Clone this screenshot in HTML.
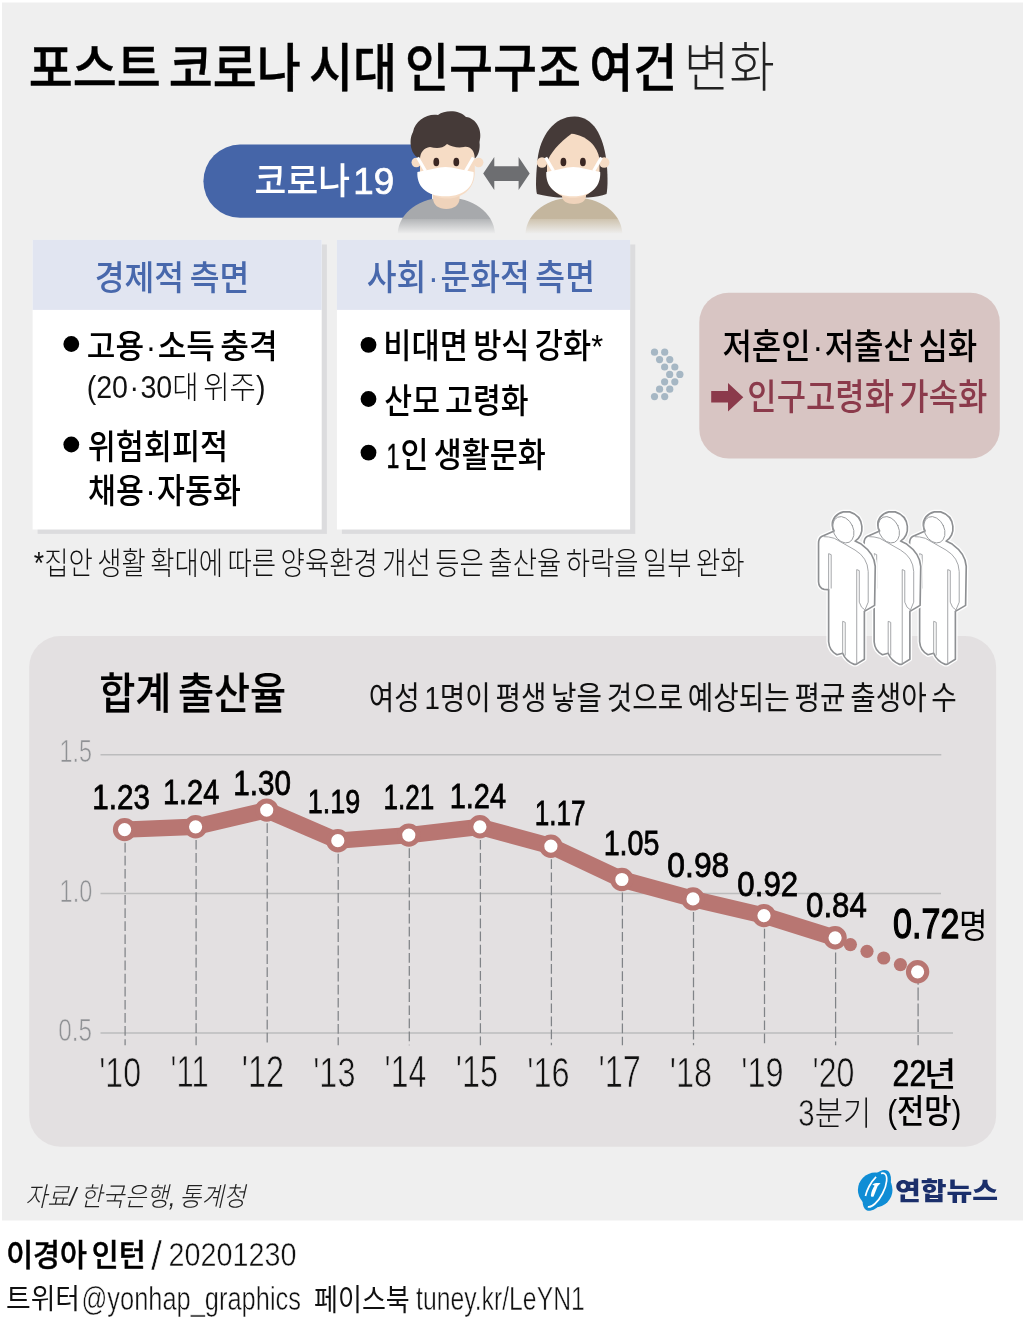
<!DOCTYPE html>
<html lang="ko"><head><meta charset="utf-8"><title>포스트 코로나 시대 인구구조 여건 변화</title>
<style>html,body{margin:0;padding:0;background:#fff}svg{display:block}text{white-space:pre}</style></head>
<body>
<svg width="1027" height="1331" viewBox="0 0 1027 1331">
<rect x="0" y="0" width="1027" height="1331" fill="#fff"/>
<rect x="2" y="2.5" width="1021" height="1218" fill="#efefef"/>
<path d="M240 144.6H432V217.8H240A36.6 36.6 0 0 1 240 144.6Z" fill="#4565a8"/>
<rect x="37.6" y="244.5" width="289.3" height="289.4" fill="#dcdcde"/>
<rect x="32.6" y="239.9" width="289.1" height="289.6" fill="#fff"/>
<rect x="32.6" y="239.9" width="289.1" height="70" fill="#e1e5f1"/>
<rect x="341.9" y="244.5" width="293.4" height="289.4" fill="#dcdcde"/>
<rect x="336.9" y="239.9" width="293.2" height="289.6" fill="#fff"/>
<rect x="336.9" y="239.9" width="293.2" height="70" fill="#e1e5f1"/>
<circle cx="71.3" cy="344" r="7.9" fill="#000"/>
<circle cx="71.3" cy="444.5" r="7.9" fill="#000"/>
<circle cx="368.5" cy="344.8" r="7.9" fill="#000"/>
<circle cx="368.5" cy="399" r="7.9" fill="#000"/>
<circle cx="368.5" cy="452.6" r="7.9" fill="#000"/>
<circle cx="654.50" cy="352.20" r="3.6" fill="#a6b7c4"/>
<circle cx="664.70" cy="352.20" r="3.6" fill="#a6b7c4"/>
<circle cx="659.56" cy="359.60" r="3.6" fill="#a6b7c4"/>
<circle cx="669.76" cy="359.60" r="3.6" fill="#a6b7c4"/>
<circle cx="664.62" cy="367.00" r="3.6" fill="#a6b7c4"/>
<circle cx="674.82" cy="367.00" r="3.6" fill="#a6b7c4"/>
<circle cx="669.68" cy="374.40" r="3.6" fill="#a6b7c4"/>
<circle cx="679.88" cy="374.40" r="3.6" fill="#a6b7c4"/>
<circle cx="664.62" cy="381.80" r="3.6" fill="#a6b7c4"/>
<circle cx="674.82" cy="381.80" r="3.6" fill="#a6b7c4"/>
<circle cx="659.56" cy="389.20" r="3.6" fill="#a6b7c4"/>
<circle cx="669.76" cy="389.20" r="3.6" fill="#a6b7c4"/>
<circle cx="654.50" cy="396.60" r="3.6" fill="#a6b7c4"/>
<circle cx="664.70" cy="396.60" r="3.6" fill="#a6b7c4"/>
<rect x="699.3" y="292.7" width="300.5" height="165.7" rx="29.5" ry="29.5" fill="#d8c5c3"/>
<path d="M711.2 390.9H728V383L743.3 397.2L728 411.4V402.6H711.2Z" fill="#8b3a4b"/>
<rect x="29.2" y="636.1" width="966.9" height="510.6" rx="31" ry="31" fill="#e3e0e1"/>
<defs>
<linearGradient id="gm" x1="0" y1="197" x2="0" y2="234" gradientUnits="userSpaceOnUse"><stop offset="0" stop-color="#a7a9ac"/><stop offset="0.58" stop-color="#a7a9ac"/><stop offset="0.6" stop-color="#b4b6b8"/><stop offset="1" stop-color="#efefef"/></linearGradient>
<linearGradient id="gf" x1="0" y1="197" x2="0" y2="234" gradientUnits="userSpaceOnUse"><stop offset="0" stop-color="#c4b69e"/><stop offset="0.58" stop-color="#c4b69e"/><stop offset="0.6" stop-color="#cfc4b0"/><stop offset="1" stop-color="#efefef"/></linearGradient>
</defs>
<!-- male -->
<g>
<path d="M397.6 233.6C399 212 420 197.5 446.3 197.5C472.600 197.5 493.500 212 495 233.600Z" fill="url(#gm)"/>
<path d="M433 183H459.600V198C459.600 205 454 209 446.300 209C438.600 209 433 205 433 198Z" fill="#efd3bb"/>
<circle cx="416.3" cy="162.500" r="4.800" fill="#f6dcc5"/><circle cx="478.600" cy="162.500" r="4.800" fill="#f6dcc5"/>
<path d="M420 150C420 132 432 126 447.400 126C463 126 474.800 132 474.800 150V172C474.800 188 463 198.500 447.400 198.500C432 198.500 420 188 420 172Z" fill="#f6dcc5"/>
<path d="M420 158.500C411 156 408 141 413 132C415 120 428 113 438 115C445 109.500 460 110 466 117C476 118 483 130 479.500 142C480.500 150 478 156 474.800 158.500C474.500 150 470 146 464 147C458 148 452 147 447 144C442 149 436 148.500 430 147C424 148 420.500 152 420 158.500Z" fill="#453a38"/>
<ellipse cx="436.300" cy="162" rx="2.900" ry="4.300" fill="#3b2723"/><ellipse cx="456.300" cy="162" rx="2.900" ry="4.300" fill="#3b2723"/>
<path d="M417.600 157.500L425.500 171M473.300 157.500L465.500 171" stroke="#fff" stroke-width="3.200" fill="none"/>
<path d="M417.400 172C428 170.500 438 167 445.500 167C453 167 464 170.500 473.600 172C474.500 185 466 196.300 445.500 196.300C425 196.300 416.500 185 417.400 172Z" fill="#fff"/>
</g>
<!-- arrow -->
<path d="M483.200 173.400L494.300 157V166.300H518.600V157L529.700 173.400L518.600 189.900V181H494.300V189.900Z" fill="#6d6e71"/>
<!-- female -->
<g>
<path d="M525.400 233.600C527 212 548 197.500 574 197.500C600 197.500 621 212 622.400 233.600Z" fill="url(#gf)"/>
<path d="M575 116.500C555 116 540 135 537.500 160C536 175 535.300 188 537 194C545 196 552 197 558 197.500L588 197.500C595 197 602 196 606.500 194C608 188 607.800 172 606.300 160C603 135 593 117 575 116.500Z" fill="#453a38"/>
<path d="M562 183H586V196C586 201 581 204 574 204C567 204 562 201 562 196Z" fill="#efd3bb"/>
<circle cx="542" cy="162.500" r="5.200" fill="#f6dcc5"/><circle cx="604.200" cy="162.500" r="5.200" fill="#f6dcc5"/>
<path d="M547 163C549 154 560 142 571.500 133.800C586 135 598 146 599.500 160V172C599.500 188 588 198 573 198C558 198 547 188 547 172Z" fill="#f6dcc5"/>
<ellipse cx="563.400" cy="162" rx="2.900" ry="4.300" fill="#3b2723"/><ellipse cx="582.900" cy="162" rx="2.900" ry="4.300" fill="#3b2723"/>
<path d="M545.700 157.500L553.500 171M601.400 157.500L593.600 171" stroke="#fff" stroke-width="3.200" fill="none"/>
<path d="M546.300 172C556 170.500 566 167 573.200 167C580.500 167 591 170.500 600.200 172C601 185 593 196.300 573.200 196.300C553.500 196.300 545.500 185 546.300 172Z" fill="#fff"/>
</g>

<!-- people -->
<g transform="translate(896 500) scale(0.12771)"><path d="M130 285 Q106 298 106 340 L106 640 Q108 690 150 700 L185 702 L185 1110 Q190 1180 250 1212 L295 1200 Q320 1262 385 1287 L400 1287 L465 1247 L465 872 L545 825 L550 520 Q545 420 440 345 L392 322 C470 280 470 130 350 93 L300 93 C245 105 210 150 214 200 Q216 225 228 242 Z" fill="#fff" stroke="#fff" stroke-width="34" stroke-linejoin="round"/><path d="M130 285 Q106 298 106 340 L106 640 Q108 690 150 700 L185 702 L185 1110 Q190 1180 250 1212 L295 1200 Q320 1262 385 1287 L400 1287 L465 1247 L465 872 L545 825 L550 520 Q545 420 440 345 L392 322 C470 280 470 130 350 93 L300 93 C245 105 210 150 214 200 Q216 225 228 242 Z" fill="#fff" stroke="#8e9093" stroke-width="13" stroke-linejoin="round"/><g fill="none" stroke="#9a9c9f" stroke-width="7" stroke-linejoin="round" stroke-linecap="round"><ellipse cx="300" cy="233" rx="78" ry="108" transform="rotate(-25 300 233)"/><path d="M150 287 Q180 285 230 300 L392 392 Q490 450 495 560 L495 800 L465 872"/><path d="M185 702 L185 420 L205 428 L205 690"/><path d="M295 1200 L295 950 L315 958 L315 1215"/><path d="M405 1285 L405 545 L425 553 L425 800 Q440 850 465 858"/></g></g>
<g transform="translate(850.5 500) scale(0.12771)"><path d="M130 285 Q106 298 106 340 L106 640 Q108 690 150 700 L185 702 L185 1110 Q190 1180 250 1212 L295 1200 Q320 1262 385 1287 L400 1287 L465 1247 L465 872 L545 825 L550 520 Q545 420 440 345 L392 322 C470 280 470 130 350 93 L300 93 C245 105 210 150 214 200 Q216 225 228 242 Z" fill="#fff" stroke="#fff" stroke-width="34" stroke-linejoin="round"/><path d="M130 285 Q106 298 106 340 L106 640 Q108 690 150 700 L185 702 L185 1110 Q190 1180 250 1212 L295 1200 Q320 1262 385 1287 L400 1287 L465 1247 L465 872 L545 825 L550 520 Q545 420 440 345 L392 322 C470 280 470 130 350 93 L300 93 C245 105 210 150 214 200 Q216 225 228 242 Z" fill="#fff" stroke="#8e9093" stroke-width="13" stroke-linejoin="round"/><g fill="none" stroke="#9a9c9f" stroke-width="7" stroke-linejoin="round" stroke-linecap="round"><ellipse cx="300" cy="233" rx="78" ry="108" transform="rotate(-25 300 233)"/><path d="M150 287 Q180 285 230 300 L392 392 Q490 450 495 560 L495 800 L465 872"/><path d="M185 702 L185 420 L205 428 L205 690"/><path d="M295 1200 L295 950 L315 958 L315 1215"/><path d="M405 1285 L405 545 L425 553 L425 800 Q440 850 465 858"/></g></g>
<g transform="translate(805 500) scale(0.12771)"><path d="M130 285 Q106 298 106 340 L106 640 Q108 690 150 700 L185 702 L185 1110 Q190 1180 250 1212 L295 1200 Q320 1262 385 1287 L400 1287 L465 1247 L465 872 L545 825 L550 520 Q545 420 440 345 L392 322 C470 280 470 130 350 93 L300 93 C245 105 210 150 214 200 Q216 225 228 242 Z" fill="#fff" stroke="#fff" stroke-width="34" stroke-linejoin="round"/><path d="M130 285 Q106 298 106 340 L106 640 Q108 690 150 700 L185 702 L185 1110 Q190 1180 250 1212 L295 1200 Q320 1262 385 1287 L400 1287 L465 1247 L465 872 L545 825 L550 520 Q545 420 440 345 L392 322 C470 280 470 130 350 93 L300 93 C245 105 210 150 214 200 Q216 225 228 242 Z" fill="#fff" stroke="#8e9093" stroke-width="13" stroke-linejoin="round"/><g fill="none" stroke="#9a9c9f" stroke-width="7" stroke-linejoin="round" stroke-linecap="round"><ellipse cx="300" cy="233" rx="78" ry="108" transform="rotate(-25 300 233)"/><path d="M150 287 Q180 285 230 300 L392 392 Q490 450 495 560 L495 800 L465 872"/><path d="M185 702 L185 420 L205 428 L205 690"/><path d="M295 1200 L295 950 L315 958 L315 1215"/><path d="M405 1285 L405 545 L425 553 L425 800 Q440 850 465 858"/></g></g>
<path d="M100.5 754.7H941.3M100.5 893.6H941M100.5 1033.1H953" stroke="#bcbcbd" stroke-width="1.5" fill="none"/>
<path d="M125.1 829.6V1045.2" stroke="#808387" stroke-width="1.25" stroke-dasharray="9.7 3.4" fill="none"/>
<path d="M196.1 826.8V1045.2" stroke="#808387" stroke-width="1.25" stroke-dasharray="9.7 3.4" fill="none"/>
<path d="M267.2 810.1V1045.2" stroke="#808387" stroke-width="1.25" stroke-dasharray="9.7 3.4" fill="none"/>
<path d="M338.2 840.7V1045.2" stroke="#808387" stroke-width="1.25" stroke-dasharray="9.7 3.4" fill="none"/>
<path d="M409.3 835.1V1045.2" stroke="#808387" stroke-width="1.25" stroke-dasharray="9.7 3.4" fill="none"/>
<path d="M480.4 826.8V1045.2" stroke="#808387" stroke-width="1.25" stroke-dasharray="9.7 3.4" fill="none"/>
<path d="M551.4 846.2V1045.2" stroke="#808387" stroke-width="1.25" stroke-dasharray="9.7 3.4" fill="none"/>
<path d="M622.4 879.5V1045.2" stroke="#808387" stroke-width="1.25" stroke-dasharray="9.7 3.4" fill="none"/>
<path d="M693.5 898.9V1045.2" stroke="#808387" stroke-width="1.25" stroke-dasharray="9.7 3.4" fill="none"/>
<path d="M764.5 915.6V1045.2" stroke="#808387" stroke-width="1.25" stroke-dasharray="9.7 3.4" fill="none"/>
<path d="M835.6 937.8V1045.2" stroke="#808387" stroke-width="1.25" stroke-dasharray="11.5 3.3" fill="none"/>
<path d="M918.1 971.8V1045.2" stroke="#808387" stroke-width="1.25" stroke-dasharray="12.9 2.9" fill="none"/>
<polyline points="124.6,829.6 195.6,826.8 266.7,810.1 337.8,840.7 408.8,835.1 479.9,826.8 550.9,846.2 621.9,879.5 693.0,898.9 764.0,915.6 835.1,937.8" fill="none" stroke="#b87672" stroke-width="16.4" stroke-linejoin="round" stroke-linecap="round"/>
<circle cx="850.4" cy="944.6" r="6.6" fill="#b87672"/>
<circle cx="867.0" cy="951.3" r="6.6" fill="#b87672"/>
<circle cx="883.7" cy="958.0" r="6.6" fill="#b87672"/>
<circle cx="900.4" cy="964.6" r="6.6" fill="#b87672"/>
<circle cx="124.6" cy="829.6" r="9.15" fill="#fff" stroke="#b87672" stroke-width="5.1"/>
<circle cx="195.6" cy="826.8" r="9.15" fill="#fff" stroke="#b87672" stroke-width="5.1"/>
<circle cx="266.7" cy="810.1" r="9.15" fill="#fff" stroke="#b87672" stroke-width="5.1"/>
<circle cx="337.8" cy="840.7" r="9.15" fill="#fff" stroke="#b87672" stroke-width="5.1"/>
<circle cx="408.8" cy="835.1" r="9.15" fill="#fff" stroke="#b87672" stroke-width="5.1"/>
<circle cx="479.9" cy="826.8" r="9.15" fill="#fff" stroke="#b87672" stroke-width="5.1"/>
<circle cx="550.9" cy="846.2" r="9.15" fill="#fff" stroke="#b87672" stroke-width="5.1"/>
<circle cx="621.9" cy="879.5" r="9.15" fill="#fff" stroke="#b87672" stroke-width="5.1"/>
<circle cx="693.0" cy="898.9" r="9.15" fill="#fff" stroke="#b87672" stroke-width="5.1"/>
<circle cx="764.0" cy="915.6" r="9.15" fill="#fff" stroke="#b87672" stroke-width="5.1"/>
<circle cx="835.1" cy="937.8" r="9.15" fill="#fff" stroke="#b87672" stroke-width="5.1"/>
<circle cx="917.6" cy="971.8" r="9.15" fill="#fff" stroke="#b87672" stroke-width="5.1"/>
<!-- logo mark -->
<g>
<circle cx="875.200" cy="1189.900" r="17.300" fill="#0f8dd5"/>
<ellipse cx="876.800" cy="1190.400" rx="22.300" ry="11" transform="rotate(-62.500 876.800 1190.400)" fill="#0f8dd5"/>
<ellipse cx="875.800" cy="1190" rx="18.600" ry="7.600" transform="rotate(-62.500 875.800 1190)" fill="none" stroke="#fff" stroke-width="1.700" stroke-dasharray="46 12 22 6" stroke-dashoffset="4"/>
<path d="M872.300 1184.500C875 1182.500 878.500 1182.800 880.500 1183.200L877.600 1186.300L873.600 1196.600C871.800 1197.200 870.800 1196.600 870.900 1195.200C871.400 1191.500 872.800 1188.500 874.600 1185.800Z" fill="#fff"/>
</g>

<text transform="translate(28.69 87.06) scale(0.9084 1)" font-size="52.69" font-family="'Liberation Sans','Noto Sans CJK KR',sans-serif" font-weight="500" fill="#000" stroke="#000" stroke-width="0.008em" word-spacing="-0.11em">포스트 코로나 시대 인구구조 여건</text>
<text transform="translate(683.74 86.97) scale(0.9164 1)" font-size="54.11" font-family="'Liberation Sans','Noto Sans CJK KR',sans-serif" font-weight="300" fill="#222"  word-spacing="-0.11em">변화</text>
<text transform="translate(254.57 194.19) scale(0.9406 1)" font-size="36.77" font-family="'Liberation Sans','Noto Sans CJK KR',sans-serif" font-weight="500" fill="#fff"  word-spacing="-0.11em">코로나</text>
<text transform="translate(353.23 194.16) scale(0.9886 1)" font-size="37.12" font-family="'Liberation Sans','Noto Sans CJK KR',sans-serif" font-weight="400" fill="#fff" stroke="#fff" stroke-width="0.02em" word-spacing="-0.11em">19</text>
<text transform="translate(94.65 289.88) scale(0.9373 1)" font-size="34.62" font-family="'Liberation Sans','Noto Sans CJK KR',sans-serif" font-weight="500" fill="#4868ac"  word-spacing="-0.11em">경제적 측면</text>
<text transform="translate(366.70 290.38) scale(0.9058 1)" font-size="35.81" font-family="'Liberation Sans','Noto Sans CJK KR',sans-serif" font-weight="500" fill="#4868ac"  word-spacing="-0.11em">사회<tspan dx="0.05em">·</tspan><tspan dx="0.05em">문</tspan>화적 측면</text>
<text transform="translate(86.84 358.00) scale(0.9353 1)" font-size="33.33" font-family="'Liberation Sans','Noto Sans CJK KR',sans-serif" font-weight="500" fill="#000"  word-spacing="-0.11em">고용<tspan dx="0.05em">·</tspan><tspan dx="0.05em">소</tspan>득 충격</text>
<text transform="translate(86.68 398.40) scale(0.9236 1)" font-size="30.96" font-family="'Liberation Sans','Noto Sans CJK KR',sans-serif" font-weight="300" fill="#111"  word-spacing="-0.11em">(20<tspan dx="0.05em">·</tspan><tspan dx="0.05em">3</tspan>0대 위주)</text>
<text transform="translate(87.78 459.08) scale(0.8802 1)" font-size="34.62" font-family="'Liberation Sans','Noto Sans CJK KR',sans-serif" font-weight="500" fill="#000"  word-spacing="-0.11em">위험회피적</text>
<text transform="translate(88.09 502.88) scale(0.8764 1)" font-size="34.62" font-family="'Liberation Sans','Noto Sans CJK KR',sans-serif" font-weight="500" fill="#000"  word-spacing="-0.11em">채용<tspan dx="0.05em">·</tspan><tspan dx="0.05em">자</tspan>동화</text>
<text transform="translate(383.34 357.53) scale(0.9001 1)" font-size="34.09" font-family="'Liberation Sans','Noto Sans CJK KR',sans-serif" font-weight="500" fill="#000"  word-spacing="-0.11em">비대면 방식 강화*</text>
<text transform="translate(384.29 412.99) scale(0.8778 1)" font-size="34.52" font-family="'Liberation Sans','Noto Sans CJK KR',sans-serif" font-weight="500" fill="#000"  word-spacing="-0.11em">산모 고령화</text>
<text transform="translate(386.58 467.85) scale(0.6564 1)" font-size="35.21" font-family="'Liberation Sans','Noto Sans CJK KR',sans-serif" font-weight="400" fill="#000" stroke="#000" stroke-width="0.015em" word-spacing="-0.11em">1</text>
<text transform="translate(400.47 467.20) scale(0.8846 1)" font-size="34.47" font-family="'Liberation Sans','Noto Sans CJK KR',sans-serif" font-weight="500" fill="#000"  word-spacing="-0.11em">인 생활문화</text>
<text transform="translate(33.87 574.42) scale(0.8531 1)" font-size="30.98" font-family="'Liberation Sans','Noto Sans CJK KR',sans-serif" font-weight="300" fill="#111"  word-spacing="-0.11em">*집안 생활 확대에 따른 양육환경 개선 등은 출산율 하락을 일부 완화</text>
<text transform="translate(722.42 359.00) scale(0.8999 1)" font-size="35.59" font-family="'Liberation Sans','Noto Sans CJK KR',sans-serif" font-weight="500" fill="#000"  word-spacing="-0.11em">저혼인<tspan dx="0.05em">·</tspan><tspan dx="0.05em">저</tspan>출산 심화</text>
<text transform="translate(747.29 410.41) scale(0.8728 1)" font-size="36.56" font-family="'Liberation Sans','Noto Sans CJK KR',sans-serif" font-weight="500" fill="#8b3a4b"  word-spacing="-0.11em">인구고령화 가속화</text>
<text transform="translate(99.23 708.72) scale(0.9100 1)" font-size="43.09" font-family="'Liberation Sans','Noto Sans CJK KR',sans-serif" font-weight="500" fill="#000" stroke="#000" stroke-width="0.004em" word-spacing="-0.11em">합계 출산율</text>
<text transform="translate(368.76 709.43) scale(0.8682 1)" font-size="31.94" font-family="'Liberation Sans','Noto Sans CJK KR',sans-serif" font-weight="400" fill="#111"  word-spacing="-0.11em">여성 1명이 평생 낳을 것으로 예상되는 평균 출생아 수</text>
<text transform="translate(59.60 761.50) scale(0.7423 1)" font-size="31.47" font-family="'Liberation Sans','Noto Sans CJK KR',sans-serif" font-weight="400" fill="#8f9194" stroke="#e3e0e1" stroke-width="0.02em" word-spacing="-0.11em">1.5</text>
<text transform="translate(59.58 901.80) scale(0.7584 1)" font-size="31.01" font-family="'Liberation Sans','Noto Sans CJK KR',sans-serif" font-weight="400" fill="#8f9194" stroke="#e3e0e1" stroke-width="0.02em" word-spacing="-0.11em">1.0</text>
<text transform="translate(58.19 1040.80) scale(0.7860 1)" font-size="30.87" font-family="'Liberation Sans','Noto Sans CJK KR',sans-serif" font-weight="400" fill="#8f9194" stroke="#e3e0e1" stroke-width="0.02em" word-spacing="-0.11em">0.5</text>
<text transform="translate(92.22 809.00) scale(0.8414 1)" font-size="35.21" font-family="'Liberation Sans','Noto Sans CJK KR',sans-serif" font-weight="400" fill="#000" stroke="#000" stroke-width="0.022em" word-spacing="-0.11em">1.23</text>
<text transform="translate(162.96 804.24) scale(0.8120 1)" font-size="35.69" font-family="'Liberation Sans','Noto Sans CJK KR',sans-serif" font-weight="400" fill="#000" stroke="#000" stroke-width="0.022em" word-spacing="-0.11em">1.24</text>
<text transform="translate(233.22 794.60) scale(0.8430 1)" font-size="35.21" font-family="'Liberation Sans','Noto Sans CJK KR',sans-serif" font-weight="400" fill="#000" stroke="#000" stroke-width="0.022em" word-spacing="-0.11em">1.30</text>
<text transform="translate(307.68 812.92) scale(0.7908 1)" font-size="34.11" font-family="'Liberation Sans','Noto Sans CJK KR',sans-serif" font-weight="400" fill="#000" stroke="#000" stroke-width="0.022em" word-spacing="-0.11em">1.19</text>
<text transform="translate(383.43 808.85) scale(0.7549 1)" font-size="34.58" font-family="'Liberation Sans','Noto Sans CJK KR',sans-serif" font-weight="400" fill="#000" stroke="#000" stroke-width="0.022em" word-spacing="-0.11em">1.21</text>
<text transform="translate(449.66 807.95) scale(0.8381 1)" font-size="34.58" font-family="'Liberation Sans','Noto Sans CJK KR',sans-serif" font-weight="400" fill="#000" stroke="#000" stroke-width="0.022em" word-spacing="-0.11em">1.24</text>
<text transform="translate(534.63 825.05) scale(0.7549 1)" font-size="34.58" font-family="'Liberation Sans','Noto Sans CJK KR',sans-serif" font-weight="400" fill="#000" stroke="#000" stroke-width="0.022em" word-spacing="-0.11em">1.17</text>
<text transform="translate(603.68 854.81) scale(0.8268 1)" font-size="34.66" font-family="'Liberation Sans','Noto Sans CJK KR',sans-serif" font-weight="400" fill="#000" stroke="#000" stroke-width="0.022em" word-spacing="-0.11em">1.05</text>
<text transform="translate(667.34 876.81) scale(0.9230 1)" font-size="34.52" font-family="'Liberation Sans','Noto Sans CJK KR',sans-serif" font-weight="400" fill="#000" stroke="#000" stroke-width="0.022em" word-spacing="-0.11em">0.98</text>
<text transform="translate(737.36 895.61) scale(0.9009 1)" font-size="34.66" font-family="'Liberation Sans','Noto Sans CJK KR',sans-serif" font-weight="400" fill="#000" stroke="#000" stroke-width="0.022em" word-spacing="-0.11em">0.92</text>
<text transform="translate(806.06 916.80) scale(0.8935 1)" font-size="34.93" font-family="'Liberation Sans','Noto Sans CJK KR',sans-serif" font-weight="400" fill="#000" stroke="#000" stroke-width="0.022em" word-spacing="-0.11em">0.84</text>
<text transform="translate(893.12 938.43) scale(0.8024 1)" font-size="42.40" font-family="'Liberation Sans','Noto Sans CJK KR',sans-serif" font-weight="400" fill="#000" stroke="#000" stroke-width="0.032em" word-spacing="-0.11em">0.72</text>
<text transform="translate(959.01 938.17) scale(0.9096 1)" font-size="34.07" font-family="'Liberation Sans','Noto Sans CJK KR',sans-serif" font-weight="400" fill="#000"  word-spacing="-0.11em">명</text>
<text transform="translate(99.17 1086.50) scale(0.7473 1)" font-size="43.04" font-family="'Liberation Sans','Noto Sans CJK KR',sans-serif" font-weight="400" fill="#111" stroke="#e3e0e1" stroke-width="0.017em" word-spacing="-0.11em">&#x27;10</text>
<text transform="translate(170.59 1086.94) scale(0.6971 1)" font-size="44.33" font-family="'Liberation Sans','Noto Sans CJK KR',sans-serif" font-weight="400" fill="#111" stroke="#e3e0e1" stroke-width="0.017em" word-spacing="-0.11em">&#x27;11</text>
<text transform="translate(241.83 1086.94) scale(0.7427 1)" font-size="43.68" font-family="'Liberation Sans','Noto Sans CJK KR',sans-serif" font-weight="400" fill="#111" stroke="#e3e0e1" stroke-width="0.017em" word-spacing="-0.11em">&#x27;12</text>
<text transform="translate(313.17 1086.50) scale(0.7536 1)" font-size="43.04" font-family="'Liberation Sans','Noto Sans CJK KR',sans-serif" font-weight="400" fill="#111" stroke="#e3e0e1" stroke-width="0.017em" word-spacing="-0.11em">&#x27;13</text>
<text transform="translate(384.55 1086.94) scale(0.7304 1)" font-size="43.68" font-family="'Liberation Sans','Noto Sans CJK KR',sans-serif" font-weight="400" fill="#111" stroke="#e3e0e1" stroke-width="0.017em" word-spacing="-0.11em">&#x27;14</text>
<text transform="translate(455.85 1086.50) scale(0.7427 1)" font-size="43.68" font-family="'Liberation Sans','Noto Sans CJK KR',sans-serif" font-weight="400" fill="#111" stroke="#e3e0e1" stroke-width="0.017em" word-spacing="-0.11em">&#x27;15</text>
<text transform="translate(527.19 1086.50) scale(0.7536 1)" font-size="43.04" font-family="'Liberation Sans','Noto Sans CJK KR',sans-serif" font-weight="400" fill="#111" stroke="#e3e0e1" stroke-width="0.017em" word-spacing="-0.11em">&#x27;16</text>
<text transform="translate(598.53 1086.94) scale(0.7427 1)" font-size="43.68" font-family="'Liberation Sans','Noto Sans CJK KR',sans-serif" font-weight="400" fill="#111" stroke="#e3e0e1" stroke-width="0.017em" word-spacing="-0.11em">&#x27;17</text>
<text transform="translate(669.87 1086.50) scale(0.7536 1)" font-size="43.04" font-family="'Liberation Sans','Noto Sans CJK KR',sans-serif" font-weight="400" fill="#111" stroke="#e3e0e1" stroke-width="0.017em" word-spacing="-0.11em">&#x27;18</text>
<text transform="translate(741.21 1086.50) scale(0.7536 1)" font-size="43.04" font-family="'Liberation Sans','Noto Sans CJK KR',sans-serif" font-weight="400" fill="#111" stroke="#e3e0e1" stroke-width="0.017em" word-spacing="-0.11em">&#x27;19</text>
<text transform="translate(812.57 1086.50) scale(0.7473 1)" font-size="43.04" font-family="'Liberation Sans','Noto Sans CJK KR',sans-serif" font-weight="400" fill="#111" stroke="#e3e0e1" stroke-width="0.017em" word-spacing="-0.11em">&#x27;20</text>
<text transform="translate(892.59 1085.83) scale(0.8266 1)" font-size="36.53" font-family="'Liberation Sans','Noto Sans CJK KR',sans-serif" font-weight="400" fill="#000" stroke="#000" stroke-width="0.02em" word-spacing="-0.11em">22</text>
<text transform="translate(924.08 1085.57) scale(1.0573 1)" font-size="33.30" font-family="'Liberation Sans','Noto Sans CJK KR',sans-serif" font-weight="500" fill="#000"  word-spacing="-0.11em">년</text>
<text transform="translate(798.13 1126.00) scale(0.7845 1)" font-size="37.39" font-family="'Liberation Sans','Noto Sans CJK KR',sans-serif" font-weight="400" fill="#111" stroke="#e3e0e1" stroke-width="0.017em" word-spacing="-0.11em">3</text>
<text transform="translate(814.76 1124.75) scale(0.9277 1)" font-size="33.19" font-family="'Liberation Sans','Noto Sans CJK KR',sans-serif" font-weight="300" fill="#111"  word-spacing="-0.11em">분기</text>
<text transform="translate(887.22 1123.16) scale(0.9107 1)" font-size="32.57" font-family="'Liberation Sans','Noto Sans CJK KR',sans-serif" font-weight="500" fill="#000"  word-spacing="-0.11em">(전망)</text>
<text transform="translate(25.18 1206.25) scale(0.9058 1)" font-size="26.56" font-family="'Liberation Sans','Noto Sans CJK KR',sans-serif" font-weight="300" font-style="italic" fill="#222"  word-spacing="-0.11em">자료/ 한국은행, 통계청</text>
<text transform="translate(6.15 1266.33) scale(0.9520 1)" font-size="30.74" font-family="'Liberation Sans','Noto Sans CJK KR',sans-serif" font-weight="500" fill="#000" stroke="#000" stroke-width="0.016em" word-spacing="-0.11em">이경아 인턴</text>
<text transform="translate(150.90 1270.30) scale(0.9768 1)" font-size="40.56" font-family="'Liberation Sans','Noto Sans CJK KR',sans-serif" font-weight="300" fill="#111" stroke="#fff" stroke-width="0.015em" word-spacing="-0.11em">/</text>
<text transform="translate(168.57 1265.60) scale(0.8818 1)" font-size="32.61" font-family="'Liberation Sans','Noto Sans CJK KR',sans-serif" font-weight="300" fill="#111" stroke="#fff" stroke-width="0.015em" word-spacing="-0.11em">20201230</text>
<text transform="translate(5.96 1309.49) scale(0.9281 1)" font-size="28.90" font-family="'Liberation Sans','Noto Sans CJK KR',sans-serif" font-weight="400" fill="#111"  word-spacing="-0.11em">트위터</text>
<text transform="translate(81.51 1309.89) scale(0.7698 1)" font-size="33.04" font-family="'Liberation Sans','Noto Sans CJK KR',sans-serif" font-weight="300" fill="#111" stroke="#fff" stroke-width="0.015em" word-spacing="-0.11em">@yonhap_graphics</text>
<text transform="translate(314.06 1309.62) scale(0.8736 1)" font-size="29.78" font-family="'Liberation Sans','Noto Sans CJK KR',sans-serif" font-weight="400" fill="#111"  word-spacing="-0.11em">페이스북</text>
<text transform="translate(416.00 1309.89) scale(0.7494 1)" font-size="33.04" font-family="'Liberation Sans','Noto Sans CJK KR',sans-serif" font-weight="300" fill="#111" stroke="#fff" stroke-width="0.015em" word-spacing="-0.11em">tuney.kr/LeYN1</text>
<text transform="translate(894.88 1200.29) scale(1.1167 1)" font-size="25.10" font-family="'Noto Sans CJK KR',sans-serif" font-weight="900" fill="#1b2f6b"  word-spacing="-0.11em">연합뉴스</text>
</svg>
</body></html>
